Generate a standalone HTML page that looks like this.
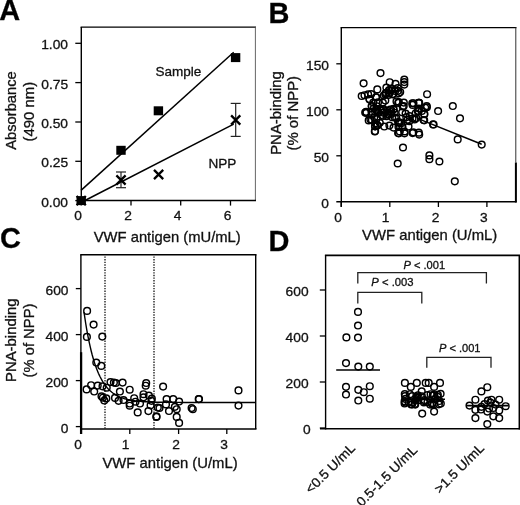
<!DOCTYPE html>
<html><head><meta charset="utf-8"><style>
html,body{margin:0;padding:0;background:#fff;width:520px;height:505px;overflow:hidden}
svg{display:block;filter:grayscale(1)}
text{font-family:"Liberation Sans",sans-serif;stroke:#111;stroke-width:0.3px}
</style></head><body>
<svg width="520" height="505" viewBox="0 0 520 505">
<rect width="520" height="505" fill="#fff"/>
<text x="-0.75" y="19.60" font-size="29" font-weight="bold" fill="#000" textLength="20.94" lengthAdjust="spacingAndGlyphs">A</text>
<line x1="81.3" y1="27" x2="81.3" y2="201.2" stroke="#000" stroke-width="1.4" />
<line x1="80.6" y1="27.1" x2="256" y2="27.1" stroke="#000" stroke-width="1.3" />
<line x1="255.4" y1="27" x2="255.4" y2="201" stroke="#555" stroke-width="0.9" />
<line x1="81" y1="200.6" x2="256" y2="200.6" stroke="#000" stroke-width="1.5" />
<line x1="75.3" y1="200.6" x2="81.3" y2="200.6" stroke="#000" stroke-width="1.3" />
<text x="41.18" y="206.50" font-size="13.2" fill="#111" textLength="26.85" lengthAdjust="spacingAndGlyphs">0.00</text>
<line x1="75.3" y1="161.3" x2="81.3" y2="161.3" stroke="#000" stroke-width="1.3" />
<text x="41.24" y="167.20" font-size="13.2" fill="#111" textLength="26.85" lengthAdjust="spacingAndGlyphs">0.25</text>
<line x1="75.3" y1="122" x2="81.3" y2="122" stroke="#000" stroke-width="1.3" />
<text x="41.18" y="127.90" font-size="13.2" fill="#111" textLength="26.85" lengthAdjust="spacingAndGlyphs">0.50</text>
<line x1="75.3" y1="82.6" x2="81.3" y2="82.6" stroke="#000" stroke-width="1.3" />
<text x="41.24" y="88.50" font-size="13.2" fill="#111" textLength="26.85" lengthAdjust="spacingAndGlyphs">0.75</text>
<line x1="75.3" y1="43.3" x2="81.3" y2="43.3" stroke="#000" stroke-width="1.3" />
<text x="41.18" y="49.20" font-size="13.2" fill="#111" textLength="26.85" lengthAdjust="spacingAndGlyphs">1.00</text>
<line x1="81.2" y1="200.6" x2="81.2" y2="205.6" stroke="#000" stroke-width="1.3" />
<text x="74.35" y="220.30" font-size="13.2" fill="#111" textLength="7.67" lengthAdjust="spacingAndGlyphs">0</text>
<line x1="131" y1="200.6" x2="131" y2="205.6" stroke="#000" stroke-width="1.3" />
<text x="124.32" y="220.30" font-size="13.2" fill="#111" textLength="7.67" lengthAdjust="spacingAndGlyphs">2</text>
<line x1="180.7" y1="200.6" x2="180.7" y2="205.6" stroke="#000" stroke-width="1.3" />
<text x="173.74" y="220.30" font-size="13.2" fill="#111" textLength="7.67" lengthAdjust="spacingAndGlyphs">4</text>
<line x1="230.5" y1="200.6" x2="230.5" y2="205.6" stroke="#000" stroke-width="1.3" />
<text x="223.74" y="220.30" font-size="13.2" fill="#111" textLength="7.67" lengthAdjust="spacingAndGlyphs">6</text>
<text x="93.74" y="241.70" font-size="14.3" fill="#111" textLength="146.98" lengthAdjust="spacingAndGlyphs">VWF antigen (mU/mL)</text>
<text x="0.00" y="0.00" font-size="14.3" fill="#111" textLength="78.49" lengthAdjust="spacingAndGlyphs" transform="translate(16.40,149.73) rotate(-90)">Absorbance</text>
<text x="0.00" y="0.00" font-size="14.3" fill="#111" textLength="59.67" lengthAdjust="spacingAndGlyphs" transform="translate(33.80,141.52) rotate(-90)">(490 nm)</text>
<line x1="81" y1="190.4" x2="233.7" y2="52.3" stroke="#000" stroke-width="1.5" />
<line x1="83" y1="201.5" x2="233.7" y2="124.2" stroke="#000" stroke-width="1.5" />
<rect x="76.5" y="196.1" width="9.4" height="9" fill="#000"/>
<rect x="116.3" y="145.8" width="9.4" height="9" fill="#000"/>
<rect x="153.70000000000002" y="106.3" width="9.4" height="9" fill="#000"/>
<rect x="230.9" y="53.1" width="9.4" height="9" fill="#000"/>
<line x1="121" y1="172" x2="121" y2="187.7" stroke="#222" stroke-width="1.2" />
<line x1="116" y1="172" x2="126" y2="172" stroke="#222" stroke-width="1.2" />
<line x1="116" y1="187.7" x2="126" y2="187.7" stroke="#222" stroke-width="1.2" />
<line x1="235.7" y1="103.4" x2="235.7" y2="136.4" stroke="#222" stroke-width="1.2" />
<line x1="230.7" y1="103.4" x2="240.7" y2="103.4" stroke="#222" stroke-width="1.2" />
<line x1="230.7" y1="136.4" x2="240.7" y2="136.4" stroke="#222" stroke-width="1.2" />
<path d="M76.60000000000001,196.0L85.8,205.2M76.60000000000001,205.2L85.8,196.0" stroke="#000" stroke-width="2.3" fill="none"/>
<path d="M116.4,175.4L125.6,184.6M116.4,184.6L125.6,175.4" stroke="#000" stroke-width="2.3" fill="none"/>
<path d="M154.0,169.9L163.2,179.1M154.0,179.1L163.2,169.9" stroke="#000" stroke-width="2.3" fill="none"/>
<path d="M231.1,115.4L240.29999999999998,124.6M231.1,124.6L240.29999999999998,115.4" stroke="#000" stroke-width="2.3" fill="none"/>
<text x="155.38" y="75.60" font-size="13.6" fill="#111" textLength="45.93" lengthAdjust="spacingAndGlyphs">Sample</text>
<text x="208.39" y="168.00" font-size="13.6" fill="#111" textLength="27.92" lengthAdjust="spacingAndGlyphs">NPP</text>
<text x="268.59" y="22.50" font-size="29" font-weight="bold" fill="#000" textLength="20.94" lengthAdjust="spacingAndGlyphs">B</text>
<line x1="341.3" y1="27.6" x2="341.3" y2="206.8" stroke="#000" stroke-width="1.4" />
<line x1="340.6" y1="27.6" x2="516.5" y2="27.6" stroke="#000" stroke-width="1.4" />
<line x1="515.8" y1="27.6" x2="515.8" y2="162.5" stroke="#333" stroke-width="1.0" />
<line x1="515.9" y1="162.5" x2="515.9" y2="202.5" stroke="#000" stroke-width="2.0" />
<line x1="336.3" y1="201.8" x2="516.5" y2="201.8" stroke="#000" stroke-width="1.5" />
<line x1="336.3" y1="63.8" x2="341.3" y2="63.8" stroke="#000" stroke-width="1.3" />
<text x="306.02" y="70.00" font-size="13.2" fill="#111" textLength="23.01" lengthAdjust="spacingAndGlyphs">150</text>
<line x1="336.3" y1="109.8" x2="341.3" y2="109.8" stroke="#000" stroke-width="1.3" />
<text x="306.02" y="116.00" font-size="13.2" fill="#111" textLength="23.01" lengthAdjust="spacingAndGlyphs">100</text>
<line x1="336.3" y1="155.8" x2="341.3" y2="155.8" stroke="#000" stroke-width="1.3" />
<text x="313.69" y="162.00" font-size="13.2" fill="#111" textLength="15.34" lengthAdjust="spacingAndGlyphs">50</text>
<text x="321.35" y="208.00" font-size="13.2" fill="#111" textLength="7.67" lengthAdjust="spacingAndGlyphs">0</text>
<line x1="341.2" y1="201.8" x2="341.2" y2="207" stroke="#000" stroke-width="1.3" />
<text x="334.35" y="222.00" font-size="13.2" fill="#111" textLength="7.67" lengthAdjust="spacingAndGlyphs">0</text>
<line x1="389.8" y1="201.8" x2="389.8" y2="207" stroke="#000" stroke-width="1.3" />
<text x="381.79" y="222.00" font-size="13.2" fill="#111" textLength="7.67" lengthAdjust="spacingAndGlyphs">1</text>
<line x1="438.4" y1="201.8" x2="438.4" y2="207" stroke="#000" stroke-width="1.3" />
<text x="431.72" y="222.00" font-size="13.2" fill="#111" textLength="7.67" lengthAdjust="spacingAndGlyphs">2</text>
<line x1="486.9" y1="201.8" x2="486.9" y2="207" stroke="#000" stroke-width="1.3" />
<text x="480.14" y="222.00" font-size="13.2" fill="#111" textLength="7.67" lengthAdjust="spacingAndGlyphs">3</text>
<text x="362.14" y="240.40" font-size="14.3" fill="#111" textLength="135.10" lengthAdjust="spacingAndGlyphs">VWF antigen (U/mL)</text>
<text x="0.00" y="0.00" font-size="14.3" fill="#111" textLength="83.68" lengthAdjust="spacingAndGlyphs" transform="translate(280.70,154.82) rotate(-90)">PNA-binding</text>
<text x="0.00" y="0.00" font-size="14.3" fill="#111" textLength="74.56" lengthAdjust="spacingAndGlyphs" transform="translate(297.80,150.52) rotate(-90)">(% of NPP)</text>
<line x1="418" y1="118.6" x2="481.7" y2="144.2" stroke="#000" stroke-width="1.5" />
<circle cx="380.5" cy="73.1" r="3.35" fill="none" stroke="#000" stroke-width="1.45"/>
<circle cx="363.6" cy="83.3" r="3.35" fill="none" stroke="#000" stroke-width="1.45"/>
<circle cx="377.3" cy="89.4" r="3.35" fill="none" stroke="#000" stroke-width="1.45"/>
<circle cx="389.7" cy="82.2" r="3.35" fill="none" stroke="#000" stroke-width="1.45"/>
<circle cx="395.5" cy="83.8" r="3.35" fill="none" stroke="#000" stroke-width="1.45"/>
<circle cx="404.3" cy="79.6" r="3.35" fill="none" stroke="#000" stroke-width="1.45"/>
<circle cx="404.3" cy="82.1" r="3.35" fill="none" stroke="#000" stroke-width="1.45"/>
<circle cx="404.3" cy="84.6" r="3.35" fill="none" stroke="#000" stroke-width="1.45"/>
<circle cx="386.4" cy="87.5" r="3.35" fill="none" stroke="#000" stroke-width="1.45"/>
<circle cx="389.2" cy="90.1" r="3.35" fill="none" stroke="#000" stroke-width="1.45"/>
<circle cx="392.0" cy="88.6" r="3.35" fill="none" stroke="#000" stroke-width="1.45"/>
<circle cx="361.7" cy="96.0" r="3.35" fill="none" stroke="#000" stroke-width="1.45"/>
<circle cx="364.5" cy="95.2" r="3.35" fill="none" stroke="#000" stroke-width="1.45"/>
<circle cx="368.1" cy="94.4" r="3.35" fill="none" stroke="#000" stroke-width="1.45"/>
<circle cx="371.2" cy="94.0" r="3.35" fill="none" stroke="#000" stroke-width="1.45"/>
<circle cx="369.6" cy="99.5" r="3.35" fill="none" stroke="#000" stroke-width="1.45"/>
<circle cx="366.1" cy="111.8" r="3.35" fill="none" stroke="#000" stroke-width="1.45"/>
<circle cx="383.8" cy="95.5" r="3.35" fill="none" stroke="#000" stroke-width="1.45"/>
<circle cx="388.5" cy="94.9" r="3.35" fill="none" stroke="#000" stroke-width="1.45"/>
<circle cx="393.2" cy="94.1" r="3.35" fill="none" stroke="#000" stroke-width="1.45"/>
<circle cx="400.2" cy="92.1" r="3.35" fill="none" stroke="#000" stroke-width="1.45"/>
<circle cx="398.8" cy="93.3" r="3.35" fill="none" stroke="#000" stroke-width="1.45"/>
<circle cx="396.5" cy="101.4" r="3.35" fill="none" stroke="#000" stroke-width="1.45"/>
<circle cx="398.8" cy="102.0" r="3.35" fill="none" stroke="#000" stroke-width="1.45"/>
<circle cx="385.3" cy="100.5" r="3.35" fill="none" stroke="#000" stroke-width="1.45"/>
<circle cx="427.1" cy="94.2" r="3.35" fill="none" stroke="#000" stroke-width="1.45"/>
<circle cx="452.8" cy="106.0" r="3.35" fill="none" stroke="#000" stroke-width="1.45"/>
<circle cx="460.0" cy="118.3" r="3.35" fill="none" stroke="#000" stroke-width="1.45"/>
<circle cx="438.1" cy="111.0" r="3.35" fill="none" stroke="#000" stroke-width="1.45"/>
<circle cx="433.6" cy="124.5" r="3.35" fill="none" stroke="#000" stroke-width="1.45"/>
<circle cx="457.7" cy="139.4" r="3.35" fill="none" stroke="#000" stroke-width="1.45"/>
<circle cx="481.7" cy="144.6" r="3.35" fill="none" stroke="#000" stroke-width="1.45"/>
<circle cx="419.2" cy="102.9" r="3.35" fill="none" stroke="#000" stroke-width="1.45"/>
<circle cx="426.9" cy="107.3" r="3.35" fill="none" stroke="#000" stroke-width="1.45"/>
<circle cx="412.6" cy="133.1" r="3.35" fill="none" stroke="#000" stroke-width="1.45"/>
<circle cx="419.2" cy="134.6" r="3.35" fill="none" stroke="#000" stroke-width="1.45"/>
<circle cx="403.0" cy="147.5" r="3.35" fill="none" stroke="#000" stroke-width="1.45"/>
<circle cx="429.4" cy="155.4" r="3.35" fill="none" stroke="#000" stroke-width="1.45"/>
<circle cx="429.4" cy="159.2" r="3.35" fill="none" stroke="#000" stroke-width="1.45"/>
<circle cx="439.4" cy="161.5" r="3.35" fill="none" stroke="#000" stroke-width="1.45"/>
<circle cx="397.7" cy="163.5" r="3.35" fill="none" stroke="#000" stroke-width="1.45"/>
<circle cx="454.8" cy="181.3" r="3.35" fill="none" stroke="#000" stroke-width="1.45"/>
<circle cx="398.9" cy="133.3" r="3.35" fill="none" stroke="#000" stroke-width="1.45"/>
<circle cx="404.5" cy="133.3" r="3.35" fill="none" stroke="#000" stroke-width="1.45"/>
<circle cx="374.8" cy="131.4" r="3.35" fill="none" stroke="#000" stroke-width="1.45"/>
<circle cx="375.1" cy="126.3" r="3.35" fill="none" stroke="#000" stroke-width="1.45"/>
<circle cx="370.4" cy="119.6" r="3.35" fill="none" stroke="#000" stroke-width="1.45"/>
<circle cx="366.3" cy="112.9" r="3.35" fill="none" stroke="#000" stroke-width="1.45"/>
<circle cx="424.2" cy="120.3" r="3.35" fill="none" stroke="#000" stroke-width="1.45"/>
<circle cx="424.2" cy="114.2" r="3.35" fill="none" stroke="#000" stroke-width="1.45"/>
<circle cx="418.8" cy="102.8" r="3.35" fill="none" stroke="#000" stroke-width="1.45"/>
<circle cx="365.2" cy="112.5" r="3.35" fill="none" stroke="#000" stroke-width="1.45"/>
<circle cx="368.7" cy="120.4" r="3.35" fill="none" stroke="#000" stroke-width="1.45"/>
<circle cx="371.9" cy="120.0" r="3.35" fill="none" stroke="#000" stroke-width="1.45"/>
<circle cx="375.1" cy="126.3" r="3.35" fill="none" stroke="#000" stroke-width="1.45"/>
<circle cx="375.1" cy="131.1" r="3.35" fill="none" stroke="#000" stroke-width="1.45"/>
<circle cx="389.4" cy="125.6" r="3.35" fill="none" stroke="#000" stroke-width="1.45"/>
<circle cx="398.1" cy="122.0" r="3.35" fill="none" stroke="#000" stroke-width="1.45"/>
<circle cx="398.1" cy="133.1" r="3.35" fill="none" stroke="#000" stroke-width="1.45"/>
<circle cx="379.8" cy="122.8" r="3.35" fill="none" stroke="#000" stroke-width="1.45"/>
<circle cx="369.5" cy="99.0" r="3.35" fill="none" stroke="#000" stroke-width="1.45"/>
<circle cx="418.8" cy="102.9" r="3.35" fill="none" stroke="#000" stroke-width="1.45"/>
<circle cx="426.7" cy="106.1" r="3.35" fill="none" stroke="#000" stroke-width="1.45"/>
<circle cx="425.2" cy="107.7" r="3.35" fill="none" stroke="#000" stroke-width="1.45"/>
<circle cx="418.8" cy="108.5" r="3.35" fill="none" stroke="#000" stroke-width="1.45"/>
<circle cx="424.4" cy="114.0" r="3.35" fill="none" stroke="#000" stroke-width="1.45"/>
<circle cx="423.6" cy="120.0" r="3.35" fill="none" stroke="#000" stroke-width="1.45"/>
<circle cx="433.1" cy="124.4" r="3.35" fill="none" stroke="#000" stroke-width="1.45"/>
<circle cx="413.3" cy="132.3" r="3.35" fill="none" stroke="#000" stroke-width="1.45"/>
<circle cx="418.8" cy="132.7" r="3.35" fill="none" stroke="#000" stroke-width="1.45"/>
<circle cx="399.0" cy="122.8" r="3.35" fill="none" stroke="#000" stroke-width="1.45"/>
<circle cx="399.8" cy="131.5" r="3.35" fill="none" stroke="#000" stroke-width="1.45"/>
<circle cx="404.5" cy="131.5" r="3.35" fill="none" stroke="#000" stroke-width="1.45"/>
<circle cx="409.3" cy="121.2" r="3.35" fill="none" stroke="#000" stroke-width="1.45"/>
<circle cx="416.4" cy="118.0" r="3.35" fill="none" stroke="#000" stroke-width="1.45"/>
<circle cx="398.2" cy="102.9" r="3.35" fill="none" stroke="#000" stroke-width="1.45"/>
<circle cx="403.7" cy="106.1" r="3.35" fill="none" stroke="#000" stroke-width="1.45"/>
<circle cx="384.3" cy="126.5" r="3.35" fill="none" stroke="#000" stroke-width="1.45"/>
<circle cx="393.5" cy="127.6" r="3.35" fill="none" stroke="#000" stroke-width="1.45"/>
<circle cx="402.5" cy="127.2" r="3.35" fill="none" stroke="#000" stroke-width="1.45"/>
<circle cx="408.5" cy="126.5" r="3.35" fill="none" stroke="#000" stroke-width="1.45"/>
<circle cx="374.2" cy="117.3" r="3.35" fill="none" stroke="#000" stroke-width="1.45"/>
<circle cx="382.9" cy="110.1" r="3.35" fill="none" stroke="#000" stroke-width="1.45"/>
<circle cx="386.6" cy="116.2" r="3.35" fill="none" stroke="#000" stroke-width="1.45"/>
<circle cx="373.3" cy="102.5" r="3.35" fill="none" stroke="#000" stroke-width="1.45"/>
<circle cx="391.1" cy="109.8" r="3.35" fill="none" stroke="#000" stroke-width="1.45"/>
<circle cx="381.7" cy="115.0" r="3.35" fill="none" stroke="#000" stroke-width="1.45"/>
<circle cx="376.5" cy="119.0" r="3.35" fill="none" stroke="#000" stroke-width="1.45"/>
<circle cx="371.6" cy="111.7" r="3.35" fill="none" stroke="#000" stroke-width="1.45"/>
<circle cx="393.5" cy="108.9" r="3.35" fill="none" stroke="#000" stroke-width="1.45"/>
<circle cx="376.2" cy="109.6" r="3.35" fill="none" stroke="#000" stroke-width="1.45"/>
<circle cx="371.7" cy="106.0" r="3.35" fill="none" stroke="#000" stroke-width="1.45"/>
<circle cx="381.5" cy="110.9" r="3.35" fill="none" stroke="#000" stroke-width="1.45"/>
<circle cx="376.6" cy="106.2" r="3.35" fill="none" stroke="#000" stroke-width="1.45"/>
<circle cx="376.3" cy="110.3" r="3.35" fill="none" stroke="#000" stroke-width="1.45"/>
<circle cx="378.0" cy="102.4" r="3.35" fill="none" stroke="#000" stroke-width="1.45"/>
<circle cx="391.1" cy="112.0" r="3.35" fill="none" stroke="#000" stroke-width="1.45"/>
<circle cx="394.8" cy="117.5" r="3.35" fill="none" stroke="#000" stroke-width="1.45"/>
<circle cx="373.9" cy="108.0" r="3.35" fill="none" stroke="#000" stroke-width="1.45"/>
<circle cx="388.3" cy="114.8" r="3.35" fill="none" stroke="#000" stroke-width="1.45"/>
<circle cx="393.5" cy="109.6" r="3.35" fill="none" stroke="#000" stroke-width="1.45"/>
<circle cx="390.9" cy="114.1" r="3.35" fill="none" stroke="#000" stroke-width="1.45"/>
<circle cx="378.3" cy="112.6" r="3.35" fill="none" stroke="#000" stroke-width="1.45"/>
<circle cx="392.2" cy="117.2" r="3.35" fill="none" stroke="#000" stroke-width="1.45"/>
<circle cx="383.1" cy="112.6" r="3.35" fill="none" stroke="#000" stroke-width="1.45"/>
<circle cx="371.8" cy="106.4" r="3.35" fill="none" stroke="#000" stroke-width="1.45"/>
<circle cx="390.1" cy="109.5" r="3.35" fill="none" stroke="#000" stroke-width="1.45"/>
<circle cx="375.2" cy="111.9" r="3.35" fill="none" stroke="#000" stroke-width="1.45"/>
<circle cx="387.9" cy="114.1" r="3.35" fill="none" stroke="#000" stroke-width="1.45"/>
<circle cx="380.0" cy="109.9" r="3.35" fill="none" stroke="#000" stroke-width="1.45"/>
<circle cx="383.2" cy="116.0" r="3.35" fill="none" stroke="#000" stroke-width="1.45"/>
<circle cx="383.5" cy="109.1" r="3.35" fill="none" stroke="#000" stroke-width="1.45"/>
<circle cx="382.8" cy="102.5" r="3.35" fill="none" stroke="#000" stroke-width="1.45"/>
<circle cx="372.0" cy="114.7" r="3.35" fill="none" stroke="#000" stroke-width="1.45"/>
<circle cx="394.6" cy="112.7" r="3.35" fill="none" stroke="#000" stroke-width="1.45"/>
<circle cx="397.9" cy="90.8" r="3.35" fill="none" stroke="#000" stroke-width="1.45"/>
<circle cx="376.4" cy="97.3" r="3.35" fill="none" stroke="#000" stroke-width="1.45"/>
<circle cx="395.1" cy="91.0" r="3.35" fill="none" stroke="#000" stroke-width="1.45"/>
<circle cx="391.1" cy="90.3" r="3.35" fill="none" stroke="#000" stroke-width="1.45"/>
<circle cx="389.5" cy="93.3" r="3.35" fill="none" stroke="#000" stroke-width="1.45"/>
<circle cx="388.9" cy="90.5" r="3.35" fill="none" stroke="#000" stroke-width="1.45"/>
<circle cx="385.3" cy="94.2" r="3.35" fill="none" stroke="#000" stroke-width="1.45"/>
<circle cx="392.4" cy="94.3" r="3.35" fill="none" stroke="#000" stroke-width="1.45"/>
<circle cx="397.8" cy="88.0" r="3.35" fill="none" stroke="#000" stroke-width="1.45"/>
<circle cx="385.7" cy="93.1" r="3.35" fill="none" stroke="#000" stroke-width="1.45"/>
<circle cx="375.9" cy="97.2" r="3.35" fill="none" stroke="#000" stroke-width="1.45"/>
<circle cx="386.2" cy="93.2" r="3.35" fill="none" stroke="#000" stroke-width="1.45"/>
<circle cx="402.2" cy="112.3" r="3.35" fill="none" stroke="#000" stroke-width="1.45"/>
<circle cx="405.6" cy="113.5" r="3.35" fill="none" stroke="#000" stroke-width="1.45"/>
<circle cx="412.3" cy="103.2" r="3.35" fill="none" stroke="#000" stroke-width="1.45"/>
<circle cx="396.3" cy="117.9" r="3.35" fill="none" stroke="#000" stroke-width="1.45"/>
<circle cx="402.7" cy="106.5" r="3.35" fill="none" stroke="#000" stroke-width="1.45"/>
<circle cx="421.9" cy="110.9" r="3.35" fill="none" stroke="#000" stroke-width="1.45"/>
<circle cx="417.7" cy="111.1" r="3.35" fill="none" stroke="#000" stroke-width="1.45"/>
<circle cx="412.6" cy="104.9" r="3.35" fill="none" stroke="#000" stroke-width="1.45"/>
<circle cx="412.5" cy="118.5" r="3.35" fill="none" stroke="#000" stroke-width="1.45"/>
<circle cx="409.6" cy="116.1" r="3.35" fill="none" stroke="#000" stroke-width="1.45"/>
<circle cx="413.5" cy="103.2" r="3.35" fill="none" stroke="#000" stroke-width="1.45"/>
<circle cx="415.7" cy="113.2" r="3.35" fill="none" stroke="#000" stroke-width="1.45"/>
<circle cx="403.8" cy="102.6" r="3.35" fill="none" stroke="#000" stroke-width="1.45"/>
<circle cx="418.5" cy="111.0" r="3.35" fill="none" stroke="#000" stroke-width="1.45"/>
<circle cx="414.7" cy="118.7" r="3.35" fill="none" stroke="#000" stroke-width="1.45"/>
<circle cx="414.6" cy="119.5" r="3.35" fill="none" stroke="#000" stroke-width="1.45"/>
<circle cx="406.3" cy="117.2" r="3.35" fill="none" stroke="#000" stroke-width="1.45"/>
<circle cx="407.6" cy="119.8" r="3.35" fill="none" stroke="#000" stroke-width="1.45"/>
<circle cx="399.9" cy="122.5" r="3.35" fill="none" stroke="#000" stroke-width="1.45"/>
<circle cx="401.2" cy="123.3" r="3.35" fill="none" stroke="#000" stroke-width="1.45"/>
<circle cx="398.5" cy="127.0" r="3.35" fill="none" stroke="#000" stroke-width="1.45"/>
<circle cx="375.5" cy="123.2" r="3.35" fill="none" stroke="#000" stroke-width="1.45"/>
<circle cx="377.5" cy="125.4" r="3.35" fill="none" stroke="#000" stroke-width="1.45"/>
<circle cx="376.9" cy="125.1" r="3.35" fill="none" stroke="#000" stroke-width="1.45"/>
<text x="-0.12" y="247.90" font-size="29" font-weight="bold" fill="#000" textLength="20.94" lengthAdjust="spacingAndGlyphs">C</text>
<line x1="80.9" y1="254.7" x2="80.9" y2="434" stroke="#000" stroke-width="1.4" />
<line x1="81.1" y1="352.2" x2="81.1" y2="434" stroke="#000" stroke-width="2.3" />
<line x1="80.2" y1="254.7" x2="256.5" y2="254.7" stroke="#000" stroke-width="1.4" />
<line x1="255.7" y1="254.7" x2="255.7" y2="429" stroke="#000" stroke-width="1.4" />
<line x1="80.9" y1="428.9" x2="256.5" y2="428.9" stroke="#000" stroke-width="1.5" />
<line x1="75.8" y1="288.6" x2="80.9" y2="288.6" stroke="#000" stroke-width="1.3" />
<text x="45.52" y="294.60" font-size="13.2" fill="#111" textLength="23.01" lengthAdjust="spacingAndGlyphs">600</text>
<line x1="75.8" y1="334.6" x2="80.9" y2="334.6" stroke="#000" stroke-width="1.3" />
<text x="45.52" y="340.60" font-size="13.2" fill="#111" textLength="23.01" lengthAdjust="spacingAndGlyphs">400</text>
<line x1="75.8" y1="380.6" x2="80.9" y2="380.6" stroke="#000" stroke-width="1.3" />
<text x="45.52" y="386.60" font-size="13.2" fill="#111" textLength="23.01" lengthAdjust="spacingAndGlyphs">200</text>
<line x1="75.8" y1="426.6" x2="80.9" y2="426.6" stroke="#000" stroke-width="1.3" />
<text x="60.85" y="432.60" font-size="13.2" fill="#111" textLength="7.67" lengthAdjust="spacingAndGlyphs">0</text>
<line x1="129.8" y1="428.9" x2="129.8" y2="434" stroke="#000" stroke-width="1.3" />
<line x1="178.6" y1="428.9" x2="178.6" y2="434" stroke="#000" stroke-width="1.3" />
<line x1="226.8" y1="428.9" x2="226.8" y2="434" stroke="#000" stroke-width="1.3" />
<text x="74.25" y="448.80" font-size="13.2" fill="#111" textLength="7.67" lengthAdjust="spacingAndGlyphs">0</text>
<text x="121.79" y="448.80" font-size="13.2" fill="#111" textLength="7.67" lengthAdjust="spacingAndGlyphs">1</text>
<text x="172.22" y="448.80" font-size="13.2" fill="#111" textLength="7.67" lengthAdjust="spacingAndGlyphs">2</text>
<text x="220.34" y="448.80" font-size="13.2" fill="#111" textLength="7.67" lengthAdjust="spacingAndGlyphs">3</text>
<text x="102.44" y="468.00" font-size="14.3" fill="#111" textLength="135.20" lengthAdjust="spacingAndGlyphs">VWF antigen (U/mL)</text>
<text x="0.00" y="0.00" font-size="14.3" fill="#111" textLength="83.68" lengthAdjust="spacingAndGlyphs" transform="translate(16.40,382.02) rotate(-90)">PNA-binding</text>
<text x="0.00" y="0.00" font-size="14.3" fill="#111" textLength="73.95" lengthAdjust="spacingAndGlyphs" transform="translate(33.70,377.52) rotate(-90)">(% of NPP)</text>
<line x1="105.0" y1="256.4" x2="105.0" y2="428.5" stroke="#111" stroke-width="1.3" stroke-dasharray="1.4,1.23"/>
<line x1="154.0" y1="256.4" x2="154.0" y2="428.5" stroke="#111" stroke-width="1.3" stroke-dasharray="1.4,1.23"/>
<polyline points="84.0,312.1 84.9,318.2 85.8,324.0 86.7,329.3 87.6,334.3 88.5,338.9 89.4,343.2 90.3,347.2 91.2,351.0 92.1,354.5 93.0,357.7 93.9,360.8 94.8,363.6 95.7,366.3 96.6,368.7 97.5,371.0 98.4,373.2 99.3,375.1 100.2,377.0 101.1,378.7 102.0,380.3 102.9,381.9 103.8,383.3 104.7,384.6 105.6,385.8 106.5,386.9 107.4,388.0 108.3,389.0 109.2,389.9 110.1,390.7 111.0,391.5 111.9,392.3 112.8,393.0 113.7,393.6 114.6,394.2 115.5,394.8 116.4,395.3 117.3,395.8 118.2,396.3 119.1,396.7 120.0,397.1 120.9,397.4 121.8,397.8 122.7,398.1 123.6,398.4 124.5,398.7 125.4,398.9 126.3,399.2 127.2,399.4 128.1,399.6 129.0,399.8 129.9,400.0 130.8,400.2 131.7,400.3 132.6,400.5 133.5,400.6 134.4,400.7 135.3,400.9 136.2,401.0 137.1,401.1 138.0,401.2 138.9,401.3 139.8,401.3 140.7,401.4 141.6,401.5 142.5,401.6 143.4,401.6 144.3,401.7 145.2,401.7 146.1,401.8 147.0,401.8 147.9,401.9 148.8,401.9 149.7,402.0 150.6,402.0 151.5,402.0 152.4,402.1 153.3,402.1 154.2,402.1 155.1,402.2 156.0,402.2 156.9,402.2 157.8,402.2 158.7,402.2 159.6,402.3 160.5,402.3 161.4,402.3 162.3,402.3 163.2,402.3 164.1,402.3 165.0,402.3 165.9,402.3 166.8,402.4 167.7,402.4 168.6,402.4 169.5,402.4 170.4,402.4 171.3,402.4 172.2,402.4 173.1,402.4 174.0,402.4 174.9,402.4 175.8,402.4 176.7,402.4 177.6,402.4 178.5,402.4 179.4,402.4 180.3,402.5 181.2,402.5 182.1,402.5 183.0,402.5 183.9,402.5 184.8,402.5 185.7,402.5 186.6,402.5 187.5,402.5 188.4,402.5 189.3,402.5 190.2,402.5 191.1,402.5 192.0,402.5 192.9,402.5 193.8,402.5 194.7,402.5 195.6,402.5 196.5,402.5 197.4,402.5 198.3,402.5 199.2,402.5 200.1,402.5 201.0,402.5 201.9,402.5 202.8,402.5 203.7,402.5 204.6,402.5 205.5,402.5 206.4,402.5 207.3,402.5 208.2,402.5 209.1,402.5 210.0,402.5 210.9,402.5 211.8,402.5 212.7,402.5 213.6,402.5 214.5,402.5 215.4,402.5 216.3,402.5 217.2,402.5 218.1,402.5 219.0,402.5 219.9,402.5 220.8,402.5 221.7,402.5 222.6,402.5 223.5,402.5 224.4,402.5 225.3,402.5 226.2,402.5 227.1,402.5 228.0,402.5 228.9,402.5 229.8,402.5 230.7,402.5 231.6,402.5 232.5,402.5 233.4,402.5 234.3,402.5 235.2,402.5 236.1,402.5 237.0,402.5 237.9,402.5 238.8,402.5 239.7,402.5 240.6,402.5 241.5,402.5 242.4,402.5 243.3,402.5 244.2,402.5 245.1,402.5 246.0,402.5 246.9,402.5 247.8,402.5 248.7,402.5 249.6,402.5 250.5,402.5 251.4,402.5 252.3,402.5 253.2,402.5 254.1,402.5 255.0,402.5" fill="none" stroke="#000" stroke-width="1.4"/>
<circle cx="87.1" cy="310.9" r="3.35" fill="none" stroke="#000" stroke-width="1.45"/>
<circle cx="93.6" cy="324.6" r="3.35" fill="none" stroke="#000" stroke-width="1.45"/>
<circle cx="86.9" cy="336.9" r="3.35" fill="none" stroke="#000" stroke-width="1.45"/>
<circle cx="102.3" cy="336.6" r="3.35" fill="none" stroke="#000" stroke-width="1.45"/>
<circle cx="96.3" cy="362.6" r="3.35" fill="none" stroke="#000" stroke-width="1.45"/>
<circle cx="101.3" cy="365.9" r="3.35" fill="none" stroke="#000" stroke-width="1.45"/>
<circle cx="86.6" cy="389.4" r="3.35" fill="none" stroke="#000" stroke-width="1.45"/>
<circle cx="91.1" cy="385.2" r="3.35" fill="none" stroke="#000" stroke-width="1.45"/>
<circle cx="94.2" cy="391.5" r="3.35" fill="none" stroke="#000" stroke-width="1.45"/>
<circle cx="97.7" cy="385.6" r="3.35" fill="none" stroke="#000" stroke-width="1.45"/>
<circle cx="102.5" cy="386.3" r="3.35" fill="none" stroke="#000" stroke-width="1.45"/>
<circle cx="106.7" cy="387.7" r="3.35" fill="none" stroke="#000" stroke-width="1.45"/>
<circle cx="101.5" cy="396.3" r="3.35" fill="none" stroke="#000" stroke-width="1.45"/>
<circle cx="102.9" cy="397.7" r="3.35" fill="none" stroke="#000" stroke-width="1.45"/>
<circle cx="106.3" cy="398.4" r="3.35" fill="none" stroke="#000" stroke-width="1.45"/>
<circle cx="104.3" cy="400.5" r="3.35" fill="none" stroke="#000" stroke-width="1.45"/>
<circle cx="110.5" cy="382.1" r="3.35" fill="none" stroke="#000" stroke-width="1.45"/>
<circle cx="113.9" cy="382.6" r="3.35" fill="none" stroke="#000" stroke-width="1.45"/>
<circle cx="115.9" cy="383.0" r="3.35" fill="none" stroke="#000" stroke-width="1.45"/>
<circle cx="122.6" cy="382.6" r="3.35" fill="none" stroke="#000" stroke-width="1.45"/>
<circle cx="119.9" cy="391.5" r="3.35" fill="none" stroke="#000" stroke-width="1.45"/>
<circle cx="129.7" cy="389.7" r="3.35" fill="none" stroke="#000" stroke-width="1.45"/>
<circle cx="146.2" cy="383.0" r="3.35" fill="none" stroke="#000" stroke-width="1.45"/>
<circle cx="145.7" cy="385.7" r="3.35" fill="none" stroke="#000" stroke-width="1.45"/>
<circle cx="118.6" cy="400.8" r="3.35" fill="none" stroke="#000" stroke-width="1.45"/>
<circle cx="123.5" cy="400.0" r="3.35" fill="none" stroke="#000" stroke-width="1.45"/>
<circle cx="129.7" cy="403.5" r="3.35" fill="none" stroke="#000" stroke-width="1.45"/>
<circle cx="129.7" cy="405.7" r="3.35" fill="none" stroke="#000" stroke-width="1.45"/>
<circle cx="134.2" cy="398.2" r="3.35" fill="none" stroke="#000" stroke-width="1.45"/>
<circle cx="135.5" cy="401.7" r="3.35" fill="none" stroke="#000" stroke-width="1.45"/>
<circle cx="140.0" cy="403.5" r="3.35" fill="none" stroke="#000" stroke-width="1.45"/>
<circle cx="143.5" cy="394.2" r="3.35" fill="none" stroke="#000" stroke-width="1.45"/>
<circle cx="143.5" cy="397.3" r="3.35" fill="none" stroke="#000" stroke-width="1.45"/>
<circle cx="148.9" cy="395.5" r="3.35" fill="none" stroke="#000" stroke-width="1.45"/>
<circle cx="151.5" cy="400.8" r="3.35" fill="none" stroke="#000" stroke-width="1.45"/>
<circle cx="150.6" cy="405.3" r="3.35" fill="none" stroke="#000" stroke-width="1.45"/>
<circle cx="137.7" cy="412.4" r="3.35" fill="none" stroke="#000" stroke-width="1.45"/>
<circle cx="148.4" cy="411.1" r="3.35" fill="none" stroke="#000" stroke-width="1.45"/>
<circle cx="157.8" cy="407.5" r="3.35" fill="none" stroke="#000" stroke-width="1.45"/>
<circle cx="156.4" cy="416.4" r="3.35" fill="none" stroke="#000" stroke-width="1.45"/>
<circle cx="115.0" cy="397.9" r="3.35" fill="none" stroke="#000" stroke-width="1.45"/>
<circle cx="163.1" cy="386.6" r="3.35" fill="none" stroke="#000" stroke-width="1.45"/>
<circle cx="166.6" cy="399.1" r="3.35" fill="none" stroke="#000" stroke-width="1.45"/>
<circle cx="173.2" cy="399.1" r="3.35" fill="none" stroke="#000" stroke-width="1.45"/>
<circle cx="179.1" cy="401.5" r="3.35" fill="none" stroke="#000" stroke-width="1.45"/>
<circle cx="198.7" cy="399.1" r="3.35" fill="none" stroke="#000" stroke-width="1.45"/>
<circle cx="159.5" cy="408.0" r="3.35" fill="none" stroke="#000" stroke-width="1.45"/>
<circle cx="166.0" cy="404.4" r="3.35" fill="none" stroke="#000" stroke-width="1.45"/>
<circle cx="169.0" cy="411.0" r="3.35" fill="none" stroke="#000" stroke-width="1.45"/>
<circle cx="174.9" cy="406.8" r="3.35" fill="none" stroke="#000" stroke-width="1.45"/>
<circle cx="176.7" cy="409.2" r="3.35" fill="none" stroke="#000" stroke-width="1.45"/>
<circle cx="191.6" cy="408.0" r="3.35" fill="none" stroke="#000" stroke-width="1.45"/>
<circle cx="192.8" cy="409.2" r="3.35" fill="none" stroke="#000" stroke-width="1.45"/>
<circle cx="156.5" cy="416.9" r="3.35" fill="none" stroke="#000" stroke-width="1.45"/>
<circle cx="176.7" cy="416.9" r="3.35" fill="none" stroke="#000" stroke-width="1.45"/>
<circle cx="179.1" cy="422.9" r="3.35" fill="none" stroke="#000" stroke-width="1.45"/>
<circle cx="151.8" cy="398.5" r="3.35" fill="none" stroke="#000" stroke-width="1.45"/>
<circle cx="199.0" cy="399.1" r="3.35" fill="none" stroke="#000" stroke-width="1.45"/>
<circle cx="238.5" cy="390.4" r="3.35" fill="none" stroke="#000" stroke-width="1.45"/>
<circle cx="238.5" cy="405.6" r="3.35" fill="none" stroke="#000" stroke-width="1.45"/>
<text x="268.59" y="251.10" font-size="29" font-weight="bold" fill="#000" textLength="20.94" lengthAdjust="spacingAndGlyphs">D</text>
<line x1="325.6" y1="255.3" x2="325.6" y2="429.5" stroke="#000" stroke-width="1.4" />
<line x1="324.9" y1="255.3" x2="520" y2="255.3" stroke="#000" stroke-width="1.7" />
<line x1="519.3" y1="255.3" x2="519.3" y2="429.5" stroke="#000" stroke-width="1.5" />
<line x1="320" y1="428.8" x2="520" y2="428.8" stroke="#000" stroke-width="1.5" />
<line x1="319.8" y1="290" x2="325.6" y2="290" stroke="#000" stroke-width="1.3" />
<text x="285.62" y="296.30" font-size="13.2" fill="#111" textLength="23.01" lengthAdjust="spacingAndGlyphs">600</text>
<line x1="319.8" y1="336" x2="325.6" y2="336" stroke="#000" stroke-width="1.3" />
<text x="285.62" y="342.30" font-size="13.2" fill="#111" textLength="23.01" lengthAdjust="spacingAndGlyphs">400</text>
<line x1="319.8" y1="382" x2="325.6" y2="382" stroke="#000" stroke-width="1.3" />
<text x="285.62" y="388.30" font-size="13.2" fill="#111" textLength="23.01" lengthAdjust="spacingAndGlyphs">200</text>
<line x1="319.8" y1="428" x2="325.6" y2="428" stroke="#000" stroke-width="1.3" />
<text x="303.05" y="434.30" font-size="13.2" fill="#111" textLength="7.67" lengthAdjust="spacingAndGlyphs">0</text>
<path d="M357.8,283.4V272.6H486.4V283.4" fill="none" stroke="#222" stroke-width="1.3"/>
<path d="M357.8,303.4V292.3H421.8V303.4" fill="none" stroke="#222" stroke-width="1.3"/>
<path d="M426.8,367.7V357.3H491V367.7" fill="none" stroke="#222" stroke-width="1.3"/>
<text x="403.49" y="268.5" font-size="11.2" fill="#111" textLength="41.66" lengthAdjust="spacingAndGlyphs"><tspan font-style="italic">P</tspan> &lt; .001</text>
<text x="371.37" y="285.7" font-size="11.2" fill="#111" textLength="42.24" lengthAdjust="spacingAndGlyphs"><tspan font-style="italic">P</tspan> &lt; .003</text>
<text x="438.89" y="351.6" font-size="11.2" fill="#111" textLength="41.66" lengthAdjust="spacingAndGlyphs"><tspan font-style="italic">P</tspan> &lt; .001</text>
<line x1="336.2" y1="370" x2="380" y2="370" stroke="#000" stroke-width="1.6" />
<line x1="401" y1="399.3" x2="445" y2="399.3" stroke="#000" stroke-width="1.6" />
<line x1="466" y1="405.6" x2="508.7" y2="405.6" stroke="#000" stroke-width="1.6" />
<circle cx="358.0" cy="311.9" r="3.35" fill="none" stroke="#000" stroke-width="1.45"/>
<circle cx="358.0" cy="325.5" r="3.35" fill="none" stroke="#000" stroke-width="1.45"/>
<circle cx="346.4" cy="337.4" r="3.35" fill="none" stroke="#000" stroke-width="1.45"/>
<circle cx="358.0" cy="337.6" r="3.35" fill="none" stroke="#000" stroke-width="1.45"/>
<circle cx="346.0" cy="363.1" r="3.35" fill="none" stroke="#000" stroke-width="1.45"/>
<circle cx="358.3" cy="366.6" r="3.35" fill="none" stroke="#000" stroke-width="1.45"/>
<circle cx="369.8" cy="366.6" r="3.35" fill="none" stroke="#000" stroke-width="1.45"/>
<circle cx="346.0" cy="386.8" r="3.35" fill="none" stroke="#000" stroke-width="1.45"/>
<circle cx="346.0" cy="394.5" r="3.35" fill="none" stroke="#000" stroke-width="1.45"/>
<circle cx="358.3" cy="389.8" r="3.35" fill="none" stroke="#000" stroke-width="1.45"/>
<circle cx="363.8" cy="392.2" r="3.35" fill="none" stroke="#000" stroke-width="1.45"/>
<circle cx="369.8" cy="386.2" r="3.35" fill="none" stroke="#000" stroke-width="1.45"/>
<circle cx="369.8" cy="398.7" r="3.35" fill="none" stroke="#000" stroke-width="1.45"/>
<circle cx="358.3" cy="400.5" r="3.35" fill="none" stroke="#000" stroke-width="1.45"/>
<circle cx="404.9" cy="382.9" r="3.35" fill="none" stroke="#000" stroke-width="1.45"/>
<circle cx="416.8" cy="382.9" r="3.35" fill="none" stroke="#000" stroke-width="1.45"/>
<circle cx="425.7" cy="382.9" r="3.35" fill="none" stroke="#000" stroke-width="1.45"/>
<circle cx="428.7" cy="382.9" r="3.35" fill="none" stroke="#000" stroke-width="1.45"/>
<circle cx="440.0" cy="382.9" r="3.35" fill="none" stroke="#000" stroke-width="1.45"/>
<circle cx="410.8" cy="386.9" r="3.35" fill="none" stroke="#000" stroke-width="1.45"/>
<circle cx="434.1" cy="386.9" r="3.35" fill="none" stroke="#000" stroke-width="1.45"/>
<circle cx="421.7" cy="391.3" r="3.35" fill="none" stroke="#000" stroke-width="1.45"/>
<circle cx="422.2" cy="413.6" r="3.35" fill="none" stroke="#000" stroke-width="1.45"/>
<circle cx="434.1" cy="411.6" r="3.35" fill="none" stroke="#000" stroke-width="1.45"/>
<circle cx="487.3" cy="387.2" r="3.35" fill="none" stroke="#000" stroke-width="1.45"/>
<circle cx="481.4" cy="391.4" r="3.35" fill="none" stroke="#000" stroke-width="1.45"/>
<circle cx="475.4" cy="399.7" r="3.35" fill="none" stroke="#000" stroke-width="1.45"/>
<circle cx="487.9" cy="400.6" r="3.35" fill="none" stroke="#000" stroke-width="1.45"/>
<circle cx="491.5" cy="399.7" r="3.35" fill="none" stroke="#000" stroke-width="1.45"/>
<circle cx="499.2" cy="399.7" r="3.35" fill="none" stroke="#000" stroke-width="1.45"/>
<circle cx="469.5" cy="405.6" r="3.35" fill="none" stroke="#000" stroke-width="1.45"/>
<circle cx="481.4" cy="406.8" r="3.35" fill="none" stroke="#000" stroke-width="1.45"/>
<circle cx="475.4" cy="409.8" r="3.35" fill="none" stroke="#000" stroke-width="1.45"/>
<circle cx="487.3" cy="411.6" r="3.35" fill="none" stroke="#000" stroke-width="1.45"/>
<circle cx="493.3" cy="408.0" r="3.35" fill="none" stroke="#000" stroke-width="1.45"/>
<circle cx="499.2" cy="410.4" r="3.35" fill="none" stroke="#000" stroke-width="1.45"/>
<circle cx="505.7" cy="406.2" r="3.35" fill="none" stroke="#000" stroke-width="1.45"/>
<circle cx="475.4" cy="418.1" r="3.35" fill="none" stroke="#000" stroke-width="1.45"/>
<circle cx="493.3" cy="416.3" r="3.35" fill="none" stroke="#000" stroke-width="1.45"/>
<circle cx="499.2" cy="418.1" r="3.35" fill="none" stroke="#000" stroke-width="1.45"/>
<circle cx="487.3" cy="424.0" r="3.35" fill="none" stroke="#000" stroke-width="1.45"/>
<circle cx="490.5" cy="402.5" r="3.35" fill="none" stroke="#000" stroke-width="1.45"/>
<circle cx="484.5" cy="404.0" r="3.35" fill="none" stroke="#000" stroke-width="1.45"/>
<circle cx="495.5" cy="404.5" r="3.35" fill="none" stroke="#000" stroke-width="1.45"/>
<circle cx="489.0" cy="408.5" r="3.35" fill="none" stroke="#000" stroke-width="1.45"/>
<circle cx="481.0" cy="409.5" r="3.35" fill="none" stroke="#000" stroke-width="1.45"/>
<circle cx="427.5" cy="402.0" r="3.35" fill="none" stroke="#000" stroke-width="1.45"/>
<circle cx="433.9" cy="404.3" r="3.35" fill="none" stroke="#000" stroke-width="1.45"/>
<circle cx="431.9" cy="404.1" r="3.35" fill="none" stroke="#000" stroke-width="1.45"/>
<circle cx="405.6" cy="398.9" r="3.35" fill="none" stroke="#000" stroke-width="1.45"/>
<circle cx="439.4" cy="401.0" r="3.35" fill="none" stroke="#000" stroke-width="1.45"/>
<circle cx="437.8" cy="394.8" r="3.35" fill="none" stroke="#000" stroke-width="1.45"/>
<circle cx="421.9" cy="396.3" r="3.35" fill="none" stroke="#000" stroke-width="1.45"/>
<circle cx="424.6" cy="400.1" r="3.35" fill="none" stroke="#000" stroke-width="1.45"/>
<circle cx="405.0" cy="396.0" r="3.35" fill="none" stroke="#000" stroke-width="1.45"/>
<circle cx="414.8" cy="404.0" r="3.35" fill="none" stroke="#000" stroke-width="1.45"/>
<circle cx="432.8" cy="395.3" r="3.35" fill="none" stroke="#000" stroke-width="1.45"/>
<circle cx="434.0" cy="395.1" r="3.35" fill="none" stroke="#000" stroke-width="1.45"/>
<circle cx="427.3" cy="395.0" r="3.35" fill="none" stroke="#000" stroke-width="1.45"/>
<circle cx="404.6" cy="403.5" r="3.35" fill="none" stroke="#000" stroke-width="1.45"/>
<circle cx="412.2" cy="396.0" r="3.35" fill="none" stroke="#000" stroke-width="1.45"/>
<circle cx="440.8" cy="403.5" r="3.35" fill="none" stroke="#000" stroke-width="1.45"/>
<circle cx="415.2" cy="404.6" r="3.35" fill="none" stroke="#000" stroke-width="1.45"/>
<circle cx="424.5" cy="401.3" r="3.35" fill="none" stroke="#000" stroke-width="1.45"/>
<circle cx="412.1" cy="404.3" r="3.35" fill="none" stroke="#000" stroke-width="1.45"/>
<circle cx="430.1" cy="404.6" r="3.35" fill="none" stroke="#000" stroke-width="1.45"/>
<circle cx="437.6" cy="396.9" r="3.35" fill="none" stroke="#000" stroke-width="1.45"/>
<circle cx="417.9" cy="395.4" r="3.35" fill="none" stroke="#000" stroke-width="1.45"/>
<circle cx="409.9" cy="394.2" r="3.35" fill="none" stroke="#000" stroke-width="1.45"/>
<circle cx="415.7" cy="400.4" r="3.35" fill="none" stroke="#000" stroke-width="1.45"/>
<circle cx="404.6" cy="401.3" r="3.35" fill="none" stroke="#000" stroke-width="1.45"/>
<circle cx="417.0" cy="397.1" r="3.35" fill="none" stroke="#000" stroke-width="1.45"/>
<circle cx="434.8" cy="399.0" r="3.35" fill="none" stroke="#000" stroke-width="1.45"/>
<circle cx="416.2" cy="399.0" r="3.35" fill="none" stroke="#000" stroke-width="1.45"/>
<circle cx="430.6" cy="394.2" r="3.35" fill="none" stroke="#000" stroke-width="1.45"/>
<circle cx="440.6" cy="393.8" r="3.35" fill="none" stroke="#000" stroke-width="1.45"/>
<circle cx="432.2" cy="403.2" r="3.35" fill="none" stroke="#000" stroke-width="1.45"/>
<circle cx="405.2" cy="402.6" r="3.35" fill="none" stroke="#000" stroke-width="1.45"/>
<circle cx="418.0" cy="400.2" r="3.35" fill="none" stroke="#000" stroke-width="1.45"/>
<circle cx="404.8" cy="394.0" r="3.35" fill="none" stroke="#000" stroke-width="1.45"/>
<circle cx="411.2" cy="404.5" r="3.35" fill="none" stroke="#000" stroke-width="1.45"/>
<circle cx="411.8" cy="402.2" r="3.35" fill="none" stroke="#000" stroke-width="1.45"/>
<circle cx="438.9" cy="404.3" r="3.35" fill="none" stroke="#000" stroke-width="1.45"/>
<circle cx="417.2" cy="397.6" r="3.35" fill="none" stroke="#000" stroke-width="1.45"/>
<circle cx="423.9" cy="402.4" r="3.35" fill="none" stroke="#000" stroke-width="1.45"/>
<circle cx="408.5" cy="402.1" r="3.35" fill="none" stroke="#000" stroke-width="1.45"/>
<text x="0.00" y="0.00" font-size="13.2" fill="#111" textLength="64.02" lengthAdjust="spacingAndGlyphs" transform="translate(310.73,494.17) rotate(-45)">&lt;0.5 U/mL</text>
<text x="0.00" y="0.00" font-size="13.2" fill="#111" textLength="79.73" lengthAdjust="spacingAndGlyphs" transform="translate(361.72,507.18) rotate(-45)">0.5-1.5 U/mL</text>
<text x="0.00" y="0.00" font-size="13.2" fill="#111" textLength="64.02" lengthAdjust="spacingAndGlyphs" transform="translate(439.73,494.17) rotate(-45)">&gt;1.5 U/mL</text>
</svg></body></html>
